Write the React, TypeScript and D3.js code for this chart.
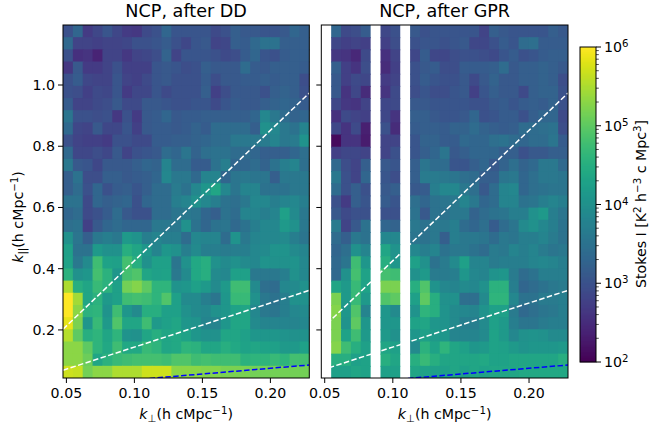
import React, { useEffect, useRef } from 'react';
import * as d3 from 'd3';

// log10 of Stokes I, top row first
const n = null;
const ddLog: (number | null)[][] = [
  [3.0,3.3,2.7,2.85,3.05,2.85,2.7,2.65,2.9,3.0,3.3,3.05,3.05,3.05,3.05,2.9,3.0,3.2,3.1,3.1,3.05,3.05,3.1,3.3,3.2],
  [3.35,2.8,2.8,2.75,2.8,2.8,2.85,3.0,3.0,3.05,3.15,3.0,2.85,3.05,3.1,2.8,2.85,3.2,3.15,3.35,3.5,3.5,3.2,3.2,3.2],
  [3.0,2.55,2.6,2.4,2.8,2.8,2.65,2.8,2.85,2.95,3.25,2.8,3.05,3.05,3.05,3.0,2.9,2.95,3.15,3.3,3.05,3.0,3.15,3.2,3.2],
  [2.65,3.1,2.7,2.7,2.8,3.0,2.75,2.75,2.75,3.05,3.1,3.05,2.95,3.0,3.2,3.1,3.1,3.1,3.4,3.15,3.1,3.2,3.2,3.2,3.15],
  [3.0,3.15,2.85,2.8,2.8,3.05,2.8,2.75,2.9,3.05,3.1,3.0,3.0,3.0,3.15,2.95,3.1,3.1,3.15,3.15,3.2,3.15,3.2,3.2,2.95],
  [3.0,2.95,2.75,2.9,2.85,3.05,2.7,2.85,2.85,3.05,2.9,3.0,3.0,3.0,3.2,2.75,2.95,3.1,3.1,3.1,3.0,3.2,3.25,3.2,3.0],
  [3.15,2.8,2.8,2.9,2.95,3.1,2.9,2.9,3.1,3.1,3.05,3.0,3.0,3.05,3.05,2.9,3.05,3.15,3.1,3.1,3.2,3.25,3.3,3.25,3.15],
  [3.55,3.0,3.0,2.95,3.0,2.65,3.0,2.7,3.1,3.15,3.3,3.1,3.15,3.15,3.2,3.2,3.2,3.2,3.2,3.3,3.85,3.6,3.4,3.25,3.3],
  [3.35,2.85,2.8,3.1,2.85,2.85,3.05,2.75,3.1,3.15,3.15,3.1,3.15,3.25,3.15,3.4,3.4,3.4,3.4,3.2,4.0,3.85,3.6,3.5,3.8],
  [3.0,2.8,2.75,2.75,2.7,3.0,3.0,2.9,2.9,3.15,3.15,3.2,3.2,3.25,3.3,3.4,3.4,3.6,3.6,3.6,3.65,3.8,3.6,3.65,4.05],
  [3.35,2.85,2.85,2.95,2.85,3.1,2.8,3.0,3.05,3.1,3.4,3.3,3.55,3.25,3.45,3.5,3.5,3.4,3.4,3.3,3.2,3.2,3.2,3.3,3.45],
  [3.6,3.1,3.05,2.85,3.1,3.1,3.1,3.2,3.3,3.25,3.8,3.4,3.4,3.15,3.15,3.5,3.7,3.3,3.3,3.4,3.25,3.5,3.7,3.8,3.45],
  [3.2,3.5,2.95,2.95,3.2,3.2,3.1,3.15,3.2,3.3,3.85,3.6,3.6,3.35,3.8,3.8,3.3,3.55,3.6,3.55,3.55,3.2,3.6,3.6,3.6],
  [3.2,3.4,3.0,3.3,3.0,3.15,3.2,3.05,3.2,3.4,3.4,3.65,3.5,3.85,4.1,4.35,3.85,3.55,3.8,3.8,3.5,3.5,3.5,3.6,3.6],
  [3.5,3.5,2.9,3.3,3.2,3.25,3.3,3.0,3.3,3.4,3.4,3.7,3.8,4.0,3.85,3.7,3.5,3.45,3.6,3.85,3.85,3.7,3.8,3.85,3.7],
  [3.3,3.4,2.9,3.0,3.15,3.4,3.1,3.0,3.0,3.4,3.4,3.55,3.6,3.55,3.3,3.2,3.5,3.4,3.8,3.8,3.7,3.8,4.25,3.9,3.6],
  [3.45,3.5,2.75,3.1,3.3,3.4,3.3,3.3,3.3,3.6,3.6,3.6,4.0,3.5,3.3,3.5,3.55,3.35,3.5,3.7,3.85,3.85,4.15,4.0,3.6],
  [4.0,3.55,3.2,3.6,3.7,3.6,4.15,4.05,3.7,3.8,3.7,3.7,3.4,3.85,3.8,3.8,3.4,4.05,3.6,3.8,3.85,3.85,3.9,3.7,3.55],
  [4.25,3.5,3.5,4.15,4.0,4.0,4.5,4.35,4.1,3.8,4.1,4.0,3.7,3.9,3.7,3.7,3.65,3.7,3.7,3.85,3.9,4.05,4.05,3.9,3.8],
  [4.3,3.6,3.9,4.75,4.3,4.25,4.8,4.5,4.0,4.25,4.25,3.55,4.0,4.4,4.5,4.0,3.9,4.0,3.9,3.85,4.05,4.0,4.0,4.05,3.85],
  [4.55,4.0,4.1,4.8,4.55,4.1,4.8,4.9,4.35,4.25,4.3,3.6,3.9,4.4,4.5,3.9,3.85,4.25,4.25,3.6,3.6,3.6,3.7,4.0,3.85],
  [5.5,4.5,4.35,4.7,4.55,4.25,5.15,5.25,5.0,4.6,4.6,4.05,4.1,4.25,4.15,3.9,4.15,4.75,4.75,3.9,3.45,3.4,3.85,3.9,4.0],
  [6.0,5.45,4.35,4.55,4.15,4.25,4.75,4.8,4.75,4.6,4.9,4.25,3.9,3.9,3.7,3.55,4.1,4.7,4.7,4.0,3.6,3.5,3.7,4.0,4.0],
  [6.0,5.3,4.55,4.6,4.05,4.75,4.1,3.9,4.5,4.5,4.25,4.25,4.0,3.9,3.85,4.0,4.1,4.3,4.35,3.85,3.6,3.55,3.7,3.85,3.9],
  [5.85,5.2,4.1,4.7,4.15,4.9,4.35,4.35,4.75,4.15,4.25,4.35,4.1,4.05,3.8,3.8,4.1,4.35,4.35,3.9,3.8,3.8,3.8,3.8,3.85],
  [5.55,5.0,4.5,4.6,4.35,4.6,4.05,4.0,4.35,4.5,4.35,4.4,4.3,4.1,4.0,4.0,4.35,4.35,4.25,4.1,4.1,4.1,4.05,4.0,4.0],
  [5.3,5.3,5.0,4.6,4.4,4.75,4.4,4.4,4.7,4.6,4.35,4.4,4.6,4.55,4.35,4.35,4.5,4.4,4.3,4.35,4.3,4.25,4.15,4.15,4.25],
  [5.3,5.3,5.1,4.35,4.55,4.7,4.75,4.8,4.8,4.8,4.75,4.9,4.9,4.75,4.8,4.75,4.75,4.75,4.55,4.6,4.6,4.7,4.6,4.8,4.8],
  [5.7,5.65,5.15,5.3,5.3,5.5,5.5,5.5,5.7,5.7,5.7,5.3,5.3,5.3,5.25,5.25,5.2,5.2,5.2,5.15,5.15,5.15,5.15,5.15,5.15],
];

const gprLog: (number | null)[][] = [
  [n,3.3,2.9,2.95,3.15,n,2.85,3.0,n,3.1,3.0,3.05,3.05,3.05,3.05,3.05,2.8,3.2,3.1,3.05,3.05,3.05,3.05,3.2,3.1],
  [n,2.85,2.75,2.8,2.75,n,2.75,2.95,n,3.0,3.05,3.05,3.0,3.05,3.1,2.85,2.85,3.0,3.15,3.05,3.4,3.45,3.15,3.15,3.15],
  [n,2.65,2.6,2.45,2.9,n,2.55,2.8,n,2.85,3.15,2.85,2.85,2.95,3.0,3.0,2.95,2.9,3.05,3.15,3.0,3.05,3.15,3.2,3.2],
  [n,3.2,2.75,2.6,2.95,n,2.5,2.75,n,3.0,3.1,3.15,2.95,2.95,3.15,3.15,3.15,3.2,3.4,3.1,3.2,3.2,3.25,3.2,3.1],
  [n,3.1,2.75,2.9,2.85,n,2.7,2.8,n,3.0,3.15,3.05,3.0,3.0,3.1,2.9,3.1,3.25,3.1,3.1,3.2,3.2,3.25,3.2,2.95],
  [n,3.1,2.6,2.85,2.5,n,2.6,2.9,n,2.95,3.05,2.95,2.95,3.05,3.1,2.75,3.05,3.2,3.1,3.1,2.9,3.2,3.25,3.25,3.0],
  [n,2.85,2.65,2.6,2.8,n,2.85,2.9,n,3.1,3.1,3.05,3.05,3.05,3.05,3.0,3.0,3.1,3.15,3.05,3.15,3.2,3.15,3.25,3.0],
  [n,2.55,2.9,2.8,2.75,n,2.85,2.6,n,3.2,3.2,3.1,3.05,3.05,3.1,3.3,3.0,3.05,3.15,3.15,3.0,3.2,3.3,3.3,2.9],
  [n,2.85,2.6,2.9,2.35,n,3.0,2.5,n,3.15,3.2,3.2,3.15,3.25,3.25,3.4,3.25,3.2,3.15,3.2,3.4,3.4,3.45,3.5,2.95],
  [n,2.1,2.6,2.6,2.3,n,2.8,2.8,n,3.05,3.25,3.25,3.15,3.15,3.35,3.3,3.3,3.45,3.5,3.4,3.3,3.4,3.4,3.55,3.15],
  [n,2.75,2.85,2.85,2.8,n,2.8,3.0,n,3.05,3.2,3.3,3.55,3.1,3.2,3.3,3.3,3.3,3.2,3.2,3.0,3.1,3.1,3.2,3.2],
  [n,3.35,2.95,2.8,3.2,n,3.1,3.05,n,3.2,3.55,3.4,3.4,3.05,3.05,3.2,3.3,3.1,3.25,3.45,3.25,3.35,3.6,3.6,3.35],
  [n,3.6,3.0,2.8,3.3,n,3.05,2.95,n,3.2,3.65,3.65,3.6,3.55,3.45,3.4,3.2,3.2,3.55,3.6,3.3,3.45,3.6,3.6,3.55],
  [n,3.4,3.0,3.2,3.0,n,3.1,3.2,n,3.1,3.15,3.7,3.85,3.85,3.6,3.45,3.1,3.4,3.8,3.85,3.3,3.45,3.5,3.55,3.55],
  [n,3.0,2.7,3.2,3.05,n,3.15,3.05,n,3.45,3.3,3.5,3.55,3.6,3.8,3.6,3.3,3.4,3.8,3.8,3.5,3.55,3.7,3.8,3.7],
  [n,3.1,2.9,3.0,3.0,n,3.0,3.0,n,3.5,3.1,3.5,3.5,3.6,3.6,3.25,3.4,3.5,3.55,3.7,3.7,4.0,4.15,3.7,3.55],
  [n,3.65,2.8,3.1,3.5,n,3.3,3.25,n,3.6,3.5,3.6,3.6,3.7,3.4,3.3,3.45,3.15,3.4,3.55,3.9,4.0,3.85,3.7,3.5],
  [n,3.4,3.2,3.6,3.5,n,3.85,3.85,n,3.55,3.5,3.6,3.2,3.7,3.6,3.6,3.55,3.4,3.6,3.55,3.7,3.7,3.8,3.65,3.5],
  [n,3.3,3.45,4.0,3.8,n,4.35,4.05,n,3.85,3.7,3.8,3.5,3.6,3.6,3.5,3.4,3.65,3.6,3.8,3.7,3.8,3.65,3.55,3.6],
  [n,3.35,3.55,4.75,4.1,n,4.5,4.1,n,4.25,4.0,3.5,3.65,3.9,4.25,3.8,3.8,3.65,3.7,3.7,3.7,3.8,3.85,3.8,3.7],
  [n,3.35,4.0,4.8,4.3,n,4.8,4.75,n,4.0,4.15,3.65,3.65,3.7,4.1,3.85,3.8,4.05,4.1,3.65,3.4,3.5,3.7,3.7,3.7],
  [n,4.35,4.15,4.7,4.3,n,5.2,5.2,n,4.5,4.9,4.05,3.85,3.8,3.9,3.85,4.0,4.55,4.55,3.7,3.3,3.4,3.5,3.6,3.65],
  [n,5.2,4.15,4.7,4.15,n,4.9,5.0,n,4.25,5.0,4.5,4.0,4.0,3.45,3.45,3.9,4.6,4.6,3.85,3.5,3.5,3.65,3.65,3.7],
  [n,5.25,4.1,4.9,3.8,n,4.1,3.9,n,4.05,4.6,4.5,4.05,3.9,3.85,3.8,4.05,4.25,4.25,3.65,3.35,3.45,3.55,3.6,3.7],
  [n,5.2,4.05,5.0,4.1,n,4.1,4.1,n,4.3,4.35,4.1,4.05,3.9,3.7,3.7,3.9,4.25,4.15,3.7,3.55,3.55,3.65,3.7,3.7],
  [n,5.2,4.3,4.75,4.15,n,4.15,4.0,n,4.1,4.25,4.15,4.1,3.8,3.8,3.8,3.9,4.3,4.15,3.85,4.0,4.05,4.0,3.9,3.9],
  [n,5.25,4.75,4.5,4.25,n,4.35,4.25,n,3.9,4.55,4.3,4.6,4.35,4.25,4.1,4.15,4.3,4.25,4.15,4.05,4.1,4.1,4.1,4.15],
  [n,4.5,4.5,4.25,4.3,n,4.5,4.35,n,4.5,4.7,4.5,4.35,4.35,4.35,4.35,4.4,4.3,4.3,4.35,4.35,4.35,4.35,4.35,4.5],
  [n,4.25,4.25,4.35,4.3,n,4.25,4.25,n,4.35,4.3,4.25,4.25,4.35,4.25,4.35,4.3,4.35,4.35,4.35,4.4,4.4,4.4,4.4,4.4],
];

const kPerpRange = [0.0475, 0.2286];
const kParRange = [0.043, 1.196];
const xTicks = [0.05, 0.1, 0.15, 0.2];
const yTicks = [0.2, 0.4, 0.6, 0.8, 1.0];
const wedgeSlopes = [4.26, 1.44];
const horizonSlope = 0.374;
const cbarDecades = [2, 3, 4, 5, 6];
const font = '"DejaVu Sans", sans-serif';
const tickSize = 14.2;
const supSize = 10.2;

const App = () => {
  const svgRef = useRef<SVGSVGElement>(null);

  useEffect(() => {
    const svg = d3.select(svgRef.current);
    svg.selectAll('*').remove();

    const color = d3.scaleLog().domain([1e2, 1e6]).range([0, 1]).clamp(true);
    const yScale = d3.scaleLinear().domain(kParRange).range([378, 25]);

    const drawPanel = (data, title, left, right, showY) => {
      const xScale = d3.scaleLinear().domain(kPerpRange).range([left, right]);
      const clip = `clip-${Math.round(left)}`;
      svg.append('clipPath').attr('id', clip).append('rect')
        .attr('x', left).attr('y', 25).attr('width', right - left).attr('height', 353);

      const g = svg.append('g');
      const cells = g.append('g').attr('clip-path', `url(#${clip})`);
      const nRows = data.length;
      const nCols = data[0].length;
      const dx = (kPerpRange[1] - kPerpRange[0]) / nCols;
      const dy = (kParRange[1] - kParRange[0]) / nRows;

      data.forEach((row, i) => {
        row.forEach((v, j) => {
          if (v === null) return;
          const k0 = kPerpRange[0] + j * dx;
          const p1 = kParRange[1] - i * dy;
          // next cell paints over the extra pixel, so no seams show; blank columns stay blank
          const extraX = row[j + 1] === null ? 0 : 1;
          cells.append('rect')
            .attr('x', xScale(k0))
            .attr('y', yScale(p1))
            .attr('width', xScale(k0 + dx) - xScale(k0) + extraX)
            .attr('height', yScale(p1 - dy) - yScale(p1) + 1)
            .attr('fill', d3.interpolateViridis(color(10 ** v)));
        });
      });

      // wedge lines
      const line = d3.line<number>().x(k => xScale(k));
      wedgeSlopes.forEach(m => {
        g.append('path')
          .attr('clip-path', `url(#${clip})`)
          .attr('d', line.y(k => yScale(m * k))(kPerpRange))
          .attr('fill', 'none').attr('stroke', 'white').attr('stroke-width', 1.5)
          .attr('stroke-dasharray', '5.5,2.4');
      });
      g.append('path')
        .attr('clip-path', `url(#${clip})`)
        .attr('d', line.y(k => yScale(horizonSlope * k))(kPerpRange))
        .attr('fill', 'none').attr('stroke', 'blue').attr('stroke-width', 1.5)
        .attr('stroke-dasharray', '5.5,2.4');

      // frame
      g.append('rect')
        .attr('x', left).attr('y', 25).attr('width', right - left).attr('height', 353)
        .attr('fill', 'none').attr('stroke', 'black').attr('stroke-width', 1);

      // ticks
      xTicks.forEach(t => {
        g.append('line').attr('x1', xScale(t)).attr('x2', xScale(t)).attr('y1', 378).attr('y2', 383)
          .attr('stroke', 'black');
        g.append('text').attr('x', xScale(t)).attr('y', 398)
          .attr('text-anchor', 'middle').attr('font-family', font).attr('font-size', tickSize)
          .text(d3.format('.2f')(t));
      });
      yTicks.forEach(t => {
        g.append('line').attr('x1', left - 5).attr('x2', left).attr('y1', yScale(t)).attr('y2', yScale(t))
          .attr('stroke', 'black');
        if (showY) {
          g.append('text').attr('x', left - 8).attr('y', yScale(t) + 5)
            .attr('text-anchor', 'end').attr('font-family', font).attr('font-size', tickSize)
            .text(d3.format('.1f')(t));
        }
      });

      g.append('text').attr('x', (left + right) / 2).attr('y', 17)
        .attr('text-anchor', 'middle').attr('font-family', font).attr('font-size', 17.6)
        .text(title);

      // x label
      const xl = g.append('text').attr('x', (left + right) / 2).attr('y', 419)
        .attr('text-anchor', 'middle').attr('font-family', font).attr('font-size', tickSize);
      xl.append('tspan').attr('font-style', 'italic').text('k');
      xl.append('tspan').attr('dy', 3).attr('font-size', supSize).text('\u22a5');
      xl.append('tspan').attr('dy', -3).text('(h cMpc');
      xl.append('tspan').attr('dy', -5).attr('font-size', supSize).text('\u22121');
      xl.append('tspan').attr('dy', 5).text(')');
    };

    drawPanel(ddLog, 'NCP, after DD', 63, 309.3, true);
    drawPanel(gprLog, 'NCP, after GPR', 321.3, 568, false);

    // y label
    const yl = svg.append('text').attr('transform', 'translate(23,217) rotate(-90)')
      .attr('text-anchor', 'middle').attr('font-family', font).attr('font-size', tickSize);
    yl.append('tspan').attr('font-style', 'italic').text('k');
    yl.append('tspan').attr('dy', 3).attr('font-size', supSize).text('||');
    yl.append('tspan').attr('dy', -3).text('(h cMpc');
    yl.append('tspan').attr('dy', -5).attr('font-size', supSize).text('\u22121');
    yl.append('tspan').attr('dy', 5).text(')');

    // colour bar
    const cbTop = 47;
    const cbBottom = 362;
    const cbX = 580;
    const cbW = 16;
    const cbScale = d3.scaleLog().domain([1e2, 1e6]).range([cbBottom, cbTop]);
    const cb = svg.append('g');
    d3.range(cbBottom, cbTop, -1).forEach(py => {
      cb.append('rect').attr('x', cbX).attr('y', py - 1).attr('width', cbW).attr('height', 1.3)
        .attr('fill', d3.interpolateViridis(color(cbScale.invert(py - 0.5))));
    });
    cb.append('rect').attr('x', cbX).attr('y', cbTop).attr('width', cbW).attr('height', cbBottom - cbTop)
      .attr('fill', 'none').attr('stroke', 'black').attr('stroke-width', 1);
    cbarDecades.forEach(d => {
      const py = cbScale(10 ** d);
      cb.append('line').attr('x1', cbX + cbW).attr('x2', cbX + cbW + 5).attr('y1', py).attr('y2', py).attr('stroke', 'black');
      const t = cb.append('text').attr('x', cbX + cbW + 8).attr('y', py + 5)
        .attr('font-family', font).attr('font-size', tickSize);
      t.append('tspan').text('10');
      t.append('tspan').attr('dy', -5).attr('font-size', supSize).text(String(d));
      if (d < 6) {
        d3.range(2, 10).forEach(m => {
          const my = cbScale(m * 10 ** d);
          cb.append('line').attr('x1', cbX + cbW).attr('x2', cbX + cbW + 2.8).attr('y1', my).attr('y2', my)
            .attr('stroke', 'black').attr('stroke-width', 0.7);
        });
      }
    });

    const cl = svg.append('text').attr('transform', 'translate(646,204) rotate(-90)')
      .attr('text-anchor', 'middle').attr('font-family', font).attr('font-size', tickSize);
    cl.append('tspan').text('Stokes I [K');
    cl.append('tspan').attr('dy', -5).attr('font-size', supSize).text('2');
    cl.append('tspan').attr('dy', 5).text(' h');
    cl.append('tspan').attr('dy', -5).attr('font-size', supSize).text('\u22123');
    cl.append('tspan').attr('dy', 5).text(' c Mpc');
    cl.append('tspan').attr('dy', -5).attr('font-size', supSize).text('3');
    cl.append('tspan').attr('dy', 5).text(']');
  }, []);

  return (
    <svg
      ref={svgRef}
      width={651}
      height={428}
      style={{ position: 'absolute', left: 0, top: 0, background: 'white' }}
    />
  );
};

export default App;
